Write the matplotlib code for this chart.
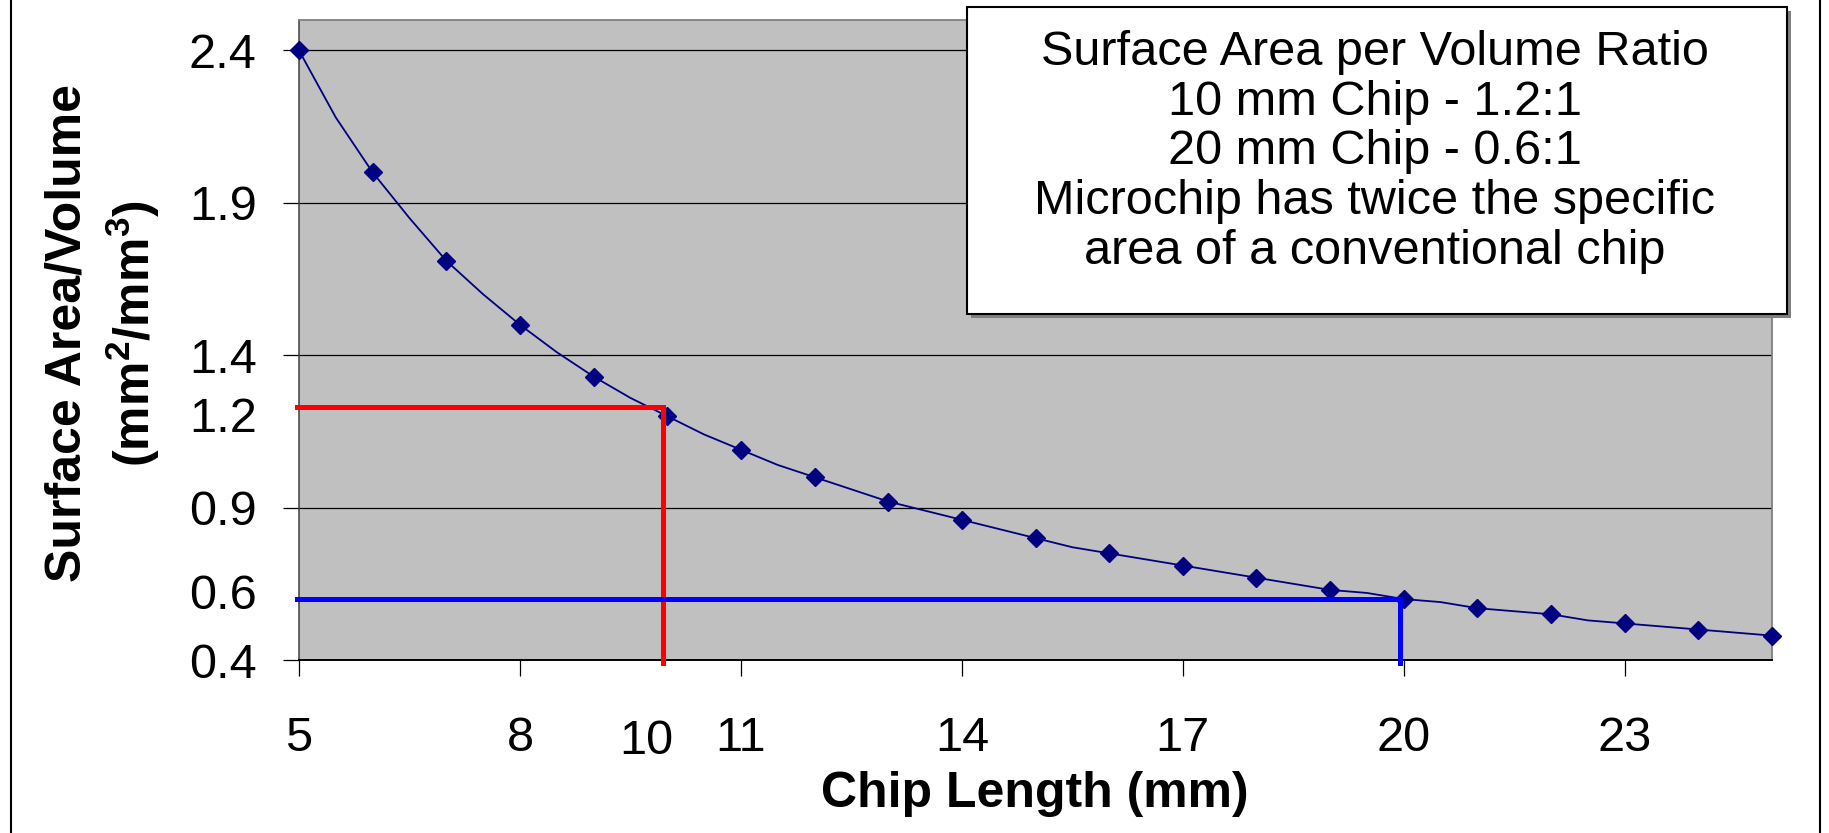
"""
Surface area / volume vs chip length, Excel-style chart with two read-off guides.
"""
import matplotlib
matplotlib.use("Agg")
import matplotlib.pyplot as plt
from matplotlib.patches import Rectangle
from matplotlib.lines import Line2D

plt.rcParams["font.family"] = ["Liberation Sans", "DejaVu Sans"]
plt.rcParams["mathtext.fontset"] = "custom"
plt.rcParams["mathtext.rm"] = "Liberation Sans"
plt.rcParams["mathtext.bf"] = "Liberation Sans:bold"

# chip length (mm) and surface area / volume (mm^2/mm^3) at the markers
chip_len = [5, 6, 7, 8, 9, 10, 11, 12, 13, 14, 15,
            16, 17, 18, 19, 20, 21, 22, 23, 24, 25]
sa_vol = [2.40, 2.00, 1.71, 1.50, 1.33, 1.20, 1.09, 1.00, 0.92, 0.86, 0.80,
          0.75, 0.71, 0.67, 0.63, 0.60, 0.57, 0.55, 0.52, 0.50, 0.48]

# the drawn curve also passes through the half-mm points (no markers there)
curve_len = [5, 5.5, 6, 6.5, 7, 7.5, 8, 8.5, 9, 9.5, 10, 10.5, 11, 11.5,
             12, 12.5, 13, 13.5, 14, 14.5, 15, 15.5, 16, 16.5, 17, 17.5,
             18, 18.5, 19, 19.5, 20, 20.5, 21, 21.5, 22, 22.5, 23, 23.5,
             24, 24.5, 25]
curve_sa_vol = [2.40, 2.18, 2.00, 1.85, 1.71, 1.60, 1.50, 1.41, 1.33, 1.26,
                1.20, 1.14, 1.09, 1.04, 1.00, 0.96, 0.92, 0.89, 0.86, 0.83,
                0.80, 0.77, 0.75, 0.73, 0.71, 0.69, 0.67, 0.65, 0.63, 0.62,
                0.60, 0.59, 0.57, 0.56, 0.55, 0.53, 0.52, 0.51, 0.50, 0.49,
                0.48]

x_ticks = [5, 8, 11, 14, 17, 20, 23]
y_ticks = [0.4, 0.9, 1.4, 1.9, 2.4]

# read-off guides: (chip length, ratio)
guide_10mm = (9.94, 1.23)
guide_20mm = (19.95, 0.60)

box_lines = ["Surface Area per Volume Ratio",
             "10 mm Chip - 1.2:1",
             "20 mm Chip - 0.6:1",
             "Microchip has twice the specific",
             "area of a conventional chip"]

W, H = 1829, 833
NAVY = "#000080"
GRAY_BG = "#c0c0c0"
FS = 35

fig = plt.figure(figsize=(W / 100, H / 100), dpi=100)
ax = fig.add_axes([299 / W, 1 - 660 / H, 1473 / W, 640 / H])
ax.set_facecolor(GRAY_BG)
ax.set_xlim(5, 25)
ax.set_ylim(0.4, 2.5)

ax.set_yticks(y_ticks)
ax.set_yticklabels([f"{v:.1f}" for v in y_ticks])
ax.set_xticks(x_ticks)
ax.set_xticklabels([str(v) for v in x_ticks])
ax.yaxis.grid(True, color="black", lw=0.9)
ax.set_axisbelow(True)

ax.tick_params(axis="y", direction="out", length=11.5, width=0.9, pad=19,
               labelsize=FS)
ax.tick_params(axis="x", direction="out", length=11.5, width=0.9, pad=29,
               labelsize=FS)

for side in ("top", "right"):
    ax.spines[side].set_color("#808080")
    ax.spines[side].set_linewidth(1.3)
ax.spines["left"].set_color("#404040")
ax.spines["bottom"].set_color("black")
ax.spines["left"].set_linewidth(1.1)
ax.spines["bottom"].set_linewidth(1.4)

# curve + markers
ax.plot(curve_len, curve_sa_vol, color=NAVY, lw=1.3, zorder=3, clip_on=False)
ax.plot(chip_len, sa_vol, ls="none", marker="D", ms=9, color=NAVY,
        zorder=4, clip_on=False)

# read-off guides
gx, gy = guide_10mm
ax.plot([4.97, gx, gx], [gy, gy, 0.39], color="#ff0000", lw=3.6,
        solid_joinstyle="miter", zorder=5, clip_on=False)
gx, gy = guide_20mm
ax.plot([4.97, gx, gx], [gy, gy, 0.39], color="#0000ff", lw=3.6,
        solid_joinstyle="miter", zorder=5, clip_on=False)

# extra axis labels for the two read-offs
ytr = ax.get_yaxis_transform()
for val, txt in [(1.207, "1.2"), (0.625, "0.6")]:
    ax.annotate(txt, (0, val), xycoords=ytr, xytext=(-30.5, 0),
                textcoords="offset points", ha="right",
                va="center_baseline", fontsize=FS)
ax.text(9.72, -0.128, "10", transform=ax.get_xaxis_transform(),
        ha="center", va="center", fontsize=FS)

# axis titles
fig.text(1035 / W, 1 - 807 / H, "Chip Length (mm)", ha="center",
         va="baseline", fontsize=36, fontweight="bold")
fig.text(103 / W, 1 - 333 / H,
         "Surface Area/Volume\n" r"(mm$^{\mathbf{2}}$/mm$^{\mathbf{3}}$)",
         ha="center", va="center", rotation=90, fontsize=36,
         fontweight="bold", multialignment="center", linespacing=1.3)

# annotation box (with a thin shadow)
bx0, by0, bx1, by1 = 967, 7, 1787, 314
fig.add_artist(Rectangle(((bx0 + 4) / W, 1 - (by1 + 4) / H),
                         (bx1 - bx0) / W, (by1 - by0) / H,
                         transform=fig.transFigure, facecolor="#808080",
                         edgecolor="none", zorder=9))
fig.add_artist(Rectangle((bx0 / W, 1 - by1 / H), (bx1 - bx0) / W,
                         (by1 - by0) / H, transform=fig.transFigure,
                         facecolor="white", edgecolor="black", lw=1.5,
                         zorder=10))
fig.text(1375 / W, 1 - 152 / H, "\n".join(box_lines), ha="center",
         va="center", fontsize=FS, linespacing=1.13, zorder=11)

# outer frame (left / right edges visible)
for px in (11, 1820):
    fig.add_artist(Line2D([px / W, px / W], [0, 1], transform=fig.transFigure,
                          color="black", lw=1.5))

fig.savefig("out.png", dpi=100)
